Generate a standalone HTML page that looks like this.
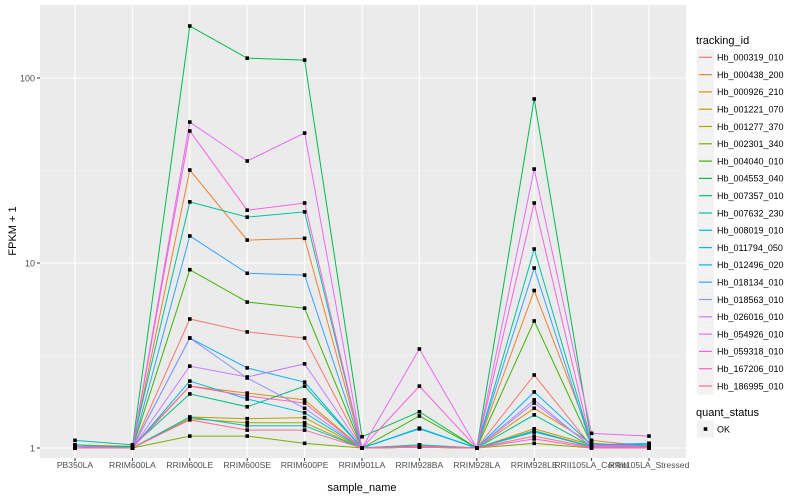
<!DOCTYPE html>
<html><head><meta charset="utf-8"><style>
body{margin:0;background:#fff;font-family:"Liberation Sans",sans-serif}
svg{display:block}
</style></head><body>
<svg id="chart" width="800" height="500" xmlns="http://www.w3.org/2000/svg" font-family="Liberation Sans, sans-serif">
<rect x="40" y="5" width="646" height="453" fill="#ebebeb"/>
<g id="grid"></g><g id="lines"></g><g id="pts"></g><g id="axes"></g><g id="legend"></g>
<text transform="translate(16,231) rotate(-90)" text-anchor="middle" font-size="11" fill="#000">FPKM + 1</text>
<text x="362" y="491" text-anchor="middle" font-size="11" fill="#000">sample_name</text>
</svg>
<script>
const categories=["PB350LA","RRIM600LA","RRIM600LE","RRIM600SE","RRIM600PE","RRIM901LA","RRIM928BA","RRIM928LA","RRIM928LE","RRII105LA_Control","RRII105LA_Stressed"];
const seriesNames=["Hb_000319_010","Hb_000438_200","Hb_000926_210","Hb_001221_070","Hb_001277_370","Hb_002301_340","Hb_004040_010","Hb_004553_040","Hb_007357_010","Hb_007632_230","Hb_008019_010","Hb_011794_050","Hb_012496_020","Hb_018134_010","Hb_018563_010","Hb_026016_010","Hb_054926_010","Hb_059318_010","Hb_167206_010","Hb_186995_010"];
const colors=["#F8766D","#EA8331","#D89000","#C09B00","#A3A500","#7CAE00","#39B600","#00BB4E","#00BF7D","#00C1A3","#00BFC4","#00BAE0","#00B0F6","#35A2FF","#9590FF","#C77CFF","#E76BF3","#FA62DB","#FF62BC","#FF6C91"];
const s01=[1,1,4.98,4.24,3.93,1,1.04,1,2.48,1.02,1];
const s02=[1.02,1,31.8,13.3,13.6,1,1.02,1,7.1,1.10,1.02];
const s03=[1.04,1.02,2.16,1.98,1.82,1,1.02,1,1.64,1.06,1];
const s04=[1,1,1.47,1.44,1.46,1,1.01,1,1.27,1.04,1.01];
const s05=[1,1,1.44,1.37,1.37,1,1.01,1,1.24,1.02,1.02];
const s06=[1,1,1.16,1.16,1.06,1,1.01,1,1.06,1,1.01];
const s07=[1.02,1,9.2,6.15,5.7,1,1.49,1,4.86,1.04,1];
const s08=[1,1.02,191,128,125,1.15,1.57,1,77,1.06,1.02];
const s09=[1.02,1.02,1.96,1.67,2.16,1,1.02,1,1.51,1.02,1.01];
const s10=[1.1,1.04,21.4,17.7,18.9,1,1.04,1,11.9,1.04,1.04];
const s11=[1.04,1,1.47,1.32,1.32,1,1.28,1,1.24,1.01,1.04];
const s12=[1,1,2.30,1.84,1.55,1,1.27,1,1.22,1.02,1.06];
const s13=[1.02,1,3.93,2.71,2.27,1,1.27,1,2.01,1.04,1.06];
const s14=[1,1,14.0,8.8,8.6,1,1.02,1,9.4,1.02,1.06];
const s15=[1,1,3.93,2.39,1.64,1,1.02,1,1.82,1.01,1.01];
const s16=[1,1,2.77,2.42,2.85,1,1.01,1,1.75,1.02,1.01];
const s17=[1.02,1,57.8,35.6,50.4,1,3.43,1,32.2,1.2,1.16];
const s18=[1,1,51.7,19.3,21.1,1,2.16,1,21.1,1.04,1.02];
const s19=[1,1,2.16,1.91,1.75,1,1.02,1,1.12,1,1];
const s20=[1,1,1.42,1.25,1.25,1,1.01,1,1.16,1.01,1.01];
const seriesValues=[s01,s02,s03,s04,s05,s06,s07,s08,s09,s10,s11,s12,s13,s14,s15,s16,s17,s18,s19,s20];
const yTicks=[1,10,100];
const yTickLabels=["1","10","100"];

const NS="http://www.w3.org/2000/svg";
function mk(tag,attrs,parent){const e=document.createElementNS(NS,tag);for(const k in attrs)e.setAttribute(k,attrs[k]);parent.appendChild(e);return e;}
function xs(i){return 75+i*57.4;}
function ys(v){return 448-185*Math.log10(v);}
const grid=document.getElementById('grid'),lines=document.getElementById('lines'),pts=document.getElementById('pts'),axes=document.getElementById('axes'),legend=document.getElementById('legend');
[0.5,1.5,2.5].forEach(e=>{const y=ys(Math.pow(10,e));if(y>5&&y<458){const l=mk('line',{x1:40,x2:686,y1:y,y2:y,stroke:'#f5f5f5','stroke-width':0.6},grid);

}});
yTicks.forEach((t,i)=>{const y=ys(t);
const g=mk('line',{x1:40,x2:686,y1:y,y2:y,stroke:'#fff','stroke-width':1.1},grid);


const tk=mk('line',{x1:37,x2:40,y1:y,y2:y,stroke:'#333','stroke-width':1},axes);


const tx=mk('text',{x:35,y:y+3.5,'text-anchor':'end','font-size':9,fill:'#4d4d4d'},axes);tx.textContent=yTickLabels[i];

});
categories.forEach((c,i)=>{const x=xs(i);
const g=mk('line',{x1:x,x2:x,y1:5,y2:458,stroke:'#fff','stroke-width':1.1},grid);


const tk=mk('line',{x1:x,x2:x,y1:458,y2:461,stroke:'#333','stroke-width':1},axes);


const tx=mk('text',{x:x,y:468,'text-anchor':'middle','font-size':8.6,fill:'#4d4d4d'},axes);tx.textContent=c;

});
seriesValues.forEach((vals,s)=>{
const p=mk('polyline',{points:vals.map((v,i)=>xs(i)+','+ys(v)).join(' '),fill:'none',stroke:colors[s],'stroke-width':1},lines);


vals.forEach((v,i)=>{const r=mk('rect',{x:xs(i)-1.8,y:ys(v)-1.8,width:3.6,height:3.6,fill:'#000'},pts);

});
});
const lt=mk('text',{x:696,y:44,'font-size':11,fill:'#000'},legend);lt.textContent='tracking_id';


seriesNames.forEach((n,i)=>{const cy=57.3+i*17.3;
const g=mk('g',{},legend);


mk('rect',{x:697,y:cy-8.5,width:17,height:17,fill:'#f2f2f2'},g);
mk('line',{x1:699,x2:712,y1:cy,y2:cy,stroke:colors[i],'stroke-width':1.2},g);
const t=mk('text',{x:717,y:cy+3.3,'font-size':9,fill:'#000'},g);t.textContent=n;});
const qt=mk('text',{x:696,y:416,'font-size':11,fill:'#000'},legend);qt.textContent='quant_status';


const qg=mk('g',{},legend);


mk('rect',{x:697,y:420.5,width:17,height:17,fill:'#f2f2f2'},qg);
mk('rect',{x:703.7,y:427.2,width:3.6,height:3.6,fill:'#000'},qg);
const ok=mk('text',{x:717,y:432.3,'font-size':9,fill:'#000'},qg);ok.textContent='OK';
</script>
</body></html>
